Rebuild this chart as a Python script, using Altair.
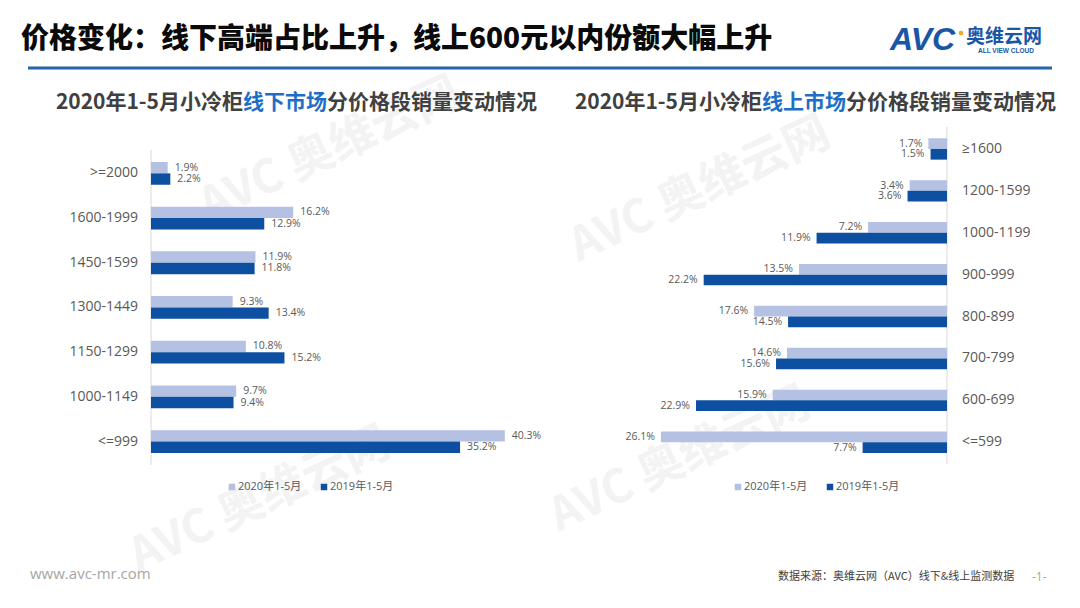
import altair as alt
import pandas as pd

# ---------------- data ----------------
series = ["2020年1-5月", "2019年1-5月"]
colors = ["#B4C1E2", "#0D4FA1"]

off_cats = [">=2000", "1600-1999", "1450-1599", "1300-1449", "1150-1299", "1000-1149", "<=999"]
off_2020 = [1.9, 16.2, 11.9, 9.3, 10.8, 9.7, 40.3]
off_2019 = [2.2, 12.9, 11.8, 13.4, 15.2, 9.4, 35.2]

on_cats = ["≥1600", "1200-1599", "1000-1199", "900-999", "800-899", "700-799", "600-699", "<=599"]
on_2020 = [1.7, 3.4, 7.2, 13.5, 17.6, 14.6, 15.9, 26.1]
on_2019 = [1.5, 3.6, 11.9, 22.2, 14.5, 15.6, 22.9, 7.7]


def long_df(cats, a, b):
    rows = []
    for c, v1, v2 in zip(cats, a, b):
        rows.append({"cat": c, "series": series[0], "value": v1, "label": f"{v1:.1f}%"})
        rows.append({"cat": c, "series": series[1], "value": v2, "label": f"{v2:.1f}%"})
    return pd.DataFrame(rows)


off_df = long_df(off_cats, off_2020, off_2019)
on_df = long_df(on_cats, on_2020, on_2019)
one = pd.DataFrame({"k": [0]})

# ---------------- layout helpers ----------------
P = 8  # page margin


def px(v):
    return v - P


CJK = "Noto Sans CJK SC"
MIX = "Open Sans, Noto Sans CJK SC"
GREY = "#595959"

color_scale = alt.Scale(domain=series, range=colors)
yoff_bar = alt.Scale(domain=series, paddingInner=0, paddingOuter=0)
yoff_txt = alt.Scale(type="point", domain=series, padding=0.5)

off_x = alt.Scale(domain=[0, 45], range=[px(151), px(151) + 45 * 8.78])
off_y = alt.Scale(domain=off_cats, range=[px(151), px(463.9)], paddingInner=0.49, paddingOuter=0.245)
on_x = alt.Scale(domain=[0, 30], range=[px(947), px(947) - 30 * 10.96])
on_y = alt.Scale(domain=on_cats, range=[px(128), px(463.2)], paddingInner=0.49, paddingOuter=0.245)


def text(t, x, y, size, color="#404040", weight="normal", align="left", font=CJK, angle=0, style="normal"):
    return alt.Chart(one).mark_text(
        text=t, align=align, baseline="middle", fontSize=size, color=color,
        fontWeight=weight, font=font, angle=angle, fontStyle=style,
    ).encode(x=alt.value(px(x)), y=alt.value(px(y)))


# ---------------- watermarks ----------------
wm = []
for (wx, wy) in [(330, 150), (700, 190), (260, 500), (680, 460)]:
    wm.append(text("AVC 奥维云网", wx, wy, 46, color="#F3F3F3", weight="bold", align="center", angle=335))

# ---------------- offline chart ----------------
off_bars = alt.Chart(off_df).mark_bar().encode(
    x=alt.X("value:Q", scale=off_x, axis=None),
    y=alt.Y("cat:N", scale=off_y, axis=None),
    yOffset=alt.YOffset("series:N", scale=yoff_bar),
    color=alt.Color("series:N", scale=color_scale, legend=None),
)
off_labels = alt.Chart(off_df).mark_text(
    align="left", baseline="middle", dx=7, fontSize=10.5, font=MIX, color=GREY
).encode(
    x=alt.X("value:Q", scale=off_x, axis=None),
    y=alt.Y("cat:N", scale=off_y, axis=None),
    yOffset=alt.YOffset("series:N", scale=yoff_txt),
    text="label:N",
)
off_cat_labels = alt.Chart(pd.DataFrame({"cat": off_cats})).mark_text(
    align="right", baseline="middle", fontSize=14, font=MIX, color=GREY
).encode(y=alt.Y("cat:N", scale=off_y, axis=None), x=alt.value(px(138)), text="cat:N")
off_axis = alt.Chart(one).mark_rule(color="#D9D9D9", strokeWidth=1).encode(
    x=alt.value(px(151)), y=alt.value(px(150)), y2=alt.value(px(465))
)

# ---------------- online chart ----------------
on_bars = alt.Chart(on_df).mark_bar().encode(
    x=alt.X("value:Q", scale=on_x, axis=None),
    y=alt.Y("cat:N", scale=on_y, axis=None),
    yOffset=alt.YOffset("series:N", scale=yoff_bar),
    color=alt.Color("series:N", scale=color_scale, legend=None),
)
on_labels = alt.Chart(on_df).mark_text(
    align="right", baseline="middle", dx=-6, fontSize=10.5, font=MIX, color=GREY
).encode(
    x=alt.X("value:Q", scale=on_x, axis=None),
    y=alt.Y("cat:N", scale=on_y, axis=None),
    yOffset=alt.YOffset("series:N", scale=yoff_txt),
    text="label:N",
)
on_cat_labels = alt.Chart(pd.DataFrame({"cat": on_cats})).mark_text(
    align="left", baseline="middle", fontSize=14, font=MIX, color=GREY
).encode(y=alt.Y("cat:N", scale=on_y, axis=None), x=alt.value(px(962)), text="cat:N")
on_axis = alt.Chart(one).mark_rule(color="#D9D9D9", strokeWidth=1).encode(
    x=alt.value(px(947)), y=alt.value(px(127)), y2=alt.value(px(464))
)

# ---------------- legends ----------------
def legend(x1, x2, y):
    leg_df = pd.DataFrame({"series": series, "xs": [px(x1), px(x2)]})
    sq = alt.Chart(leg_df).mark_square(size=42, opacity=1).encode(
        x=alt.X("xs:Q", scale=None),
        y=alt.value(px(y)),
        color=alt.Color("series:N", scale=color_scale, legend=None),
    )
    tx = alt.Chart(leg_df).mark_text(
        align="left", baseline="middle", dx=6, fontSize=11, font=MIX, color=GREY
    ).encode(x=alt.X("xs:Q", scale=None), y=alt.value(px(y)), text="series:N")
    return [sq, tx]


# ---------------- titles & decorations ----------------
BLUE = "#1F6EC6"
deco = [
    text("价格变化：线下高端占比上升，线上600元以内份额大幅上升", 21, 40, 28, color="#0A0A0A", weight=900),
    alt.Chart(one).mark_rule(color="#2563AE", strokeWidth=3).encode(
        x=alt.value(px(28)), x2=alt.value(px(1052)), y=alt.value(px(68))
    ),
    text("AVC", 890, 40, 32, color="#1A56A6", weight="bold", font="Liberation Sans", style="italic"),
    alt.Chart(one).mark_point(filled=True, size=22, color="#F5A623", opacity=1).encode(
        x=alt.value(px(961)), y=alt.value(px(33))
    ),
    text("奥维云网", 966, 37, 19, color="#1A56A6", weight="bold"),
    text("ALL VIEW CLOUD", 978, 51, 6.5, color="#1A56A6", weight="bold", font="Liberation Sans"),
    # subtitles
    text("2020年1-5月小冷柜", 243, 103, 21, color="#404040", weight="bold", align="right"),
    text("线下市场", 243, 103, 21, color=BLUE, weight="bold"),
    text("分价格段销量变动情况", 327, 103, 21, color="#404040", weight="bold"),
    text("2020年1-5月小冷柜", 762, 103, 21, color="#404040", weight="bold", align="right"),
    text("线上市场", 762, 103, 21, color=BLUE, weight="bold"),
    text("分价格段销量变动情况", 846, 103, 21, color="#404040", weight="bold"),
    # footer
    text("www.avc-mr.com", 30, 574, 15, color="#A6A6A6", font="Open Sans"),
    text("数据来源：奥维云网（AVC）线下&线上监测数据", 778, 577, 11, color="#404040"),
    text("-1-", 1032, 577, 12, color="#A6A6A6", font="Open Sans"),
]

layers = (
    wm
    + deco
    + [off_axis, off_bars, off_labels, off_cat_labels]
    + [on_axis, on_bars, on_labels, on_cat_labels]
    + legend(232, 324, 487)
    + legend(738, 830, 487)
)

chart = (
    alt.layer(*layers)
    .resolve_scale(x="independent", y="independent", yOffset="independent")
    .properties(width=1064, height=592, padding=0, autosize=alt.AutoSizeParams(type="none"), background="white")
    .configure_view(stroke=None)
)

chart.save("out.html", embed_options={"renderer": "svg", "actions": False})
